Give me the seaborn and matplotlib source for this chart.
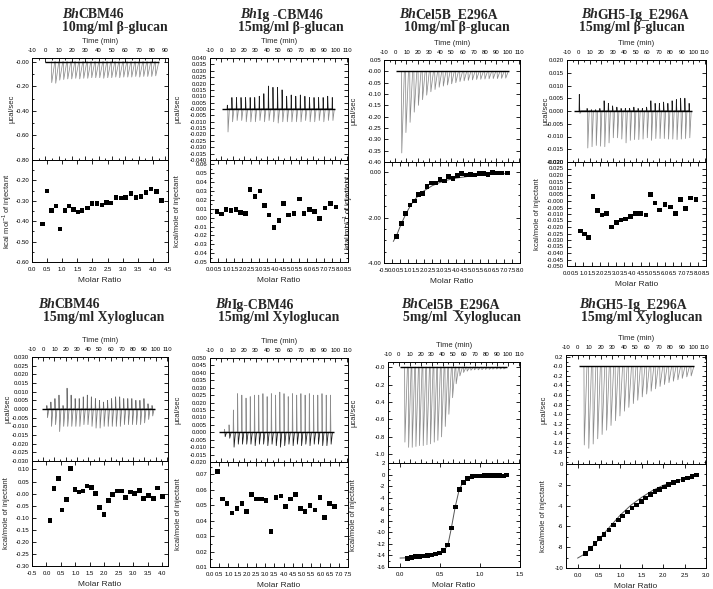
import numpy as np
import seaborn as sns
import matplotlib.pyplot as plt
from matplotlib.ticker import FixedLocator, AutoMinorLocator, FormatStrFormatter

# ITC figure: raw thermogram (top) + integrated heats (bottom) for 8 runs

sns.set_theme(style='ticks', rc={'axes.edgecolor': 'black', 'axes.linewidth': 0.7,
                                 'xtick.color': 'black', 'ytick.color': 'black'})
plt.rcParams['font.family'] = ['Liberation Sans', 'DejaVu Sans']
plt.rcParams['mathtext.fontset'] = 'custom'
plt.rcParams['mathtext.rm'] = 'Liberation Sans'

W, H = 713, 589

name_main = ['CBM46', 'Ig -CBM46', 'Cel5B_E296A', 'GH5-Ig_E296A',
             'CBM46', 'Ig-CBM46', 'Cel5B_E296A', 'GH5-Ig_E296A']
name_sub = ['10mg/ml β-glucan', '15mg/ml β-glucan', '10mg/ml β-glucan', '15mg/ml β-glucan',
            '15mg/ml Xyloglucan', '15mg/ml Xyloglucan', '5mg/ml  Xyloglucan', '15mg/ml Xyloglucan']
ylab_upper = 'µcal/sec'
ylab_lower = ['kcal mol$^{-1}$ of injectant', 'kcal/mole of injectant', 'kcal mol$^{-1}$ of injectant',
              'kcal/mole of injectant', 'kcal/mole of injectant', 'kcal/mole of injectant',
              'kcal/mole of injectant', 'kcal/mole of injectant']

# ---- panel 1: BhCBM46 / beta-glucan
p1_time = [4.5, 7.5, 10.5, 13.5, 16.5, 19.5, 22.5, 25.5, 28.5, 31.5, 34.5, 37.5, 40.5, 43.5,
           46.5, 49.5, 52.5, 55.5, 58.5, 61.5, 64.5, 67.5, 70.5, 73.5, 76.5, 79.5, 82.5]
p1_peak = [-0.170, -0.175, -0.150, -0.145, -0.140, -0.140, -0.135, -0.140, -0.135, -0.135,
           -0.130, -0.130, -0.130, -0.135, -0.130, -0.130, -0.125, -0.130, -0.125, -0.125,
           -0.125, -0.120, -0.125, -0.120, -0.120, -0.120, -0.115]
p1_ratio = [0.34, 0.50, 0.64, 0.79, 0.93, 1.09, 1.23, 1.37, 1.52, 1.66, 1.83, 1.99, 2.15,
            2.31, 2.46, 2.62, 2.78, 2.94, 3.10, 3.27, 3.44, 3.61, 3.77, 3.94, 4.11, 4.28]
p1_heat = [-0.413, -0.251, -0.349, -0.325, -0.438, -0.349, -0.325, -0.342, -0.354, -0.349,
           -0.336, -0.314, -0.314, -0.320, -0.309, -0.310, -0.285, -0.286, -0.283, -0.264,
           -0.285, -0.280, -0.260, -0.243, -0.254, -0.298]

# ---- panel 2: BhIg-CBM46 / beta-glucan
p2_time = [5, 9, 13, 17, 21, 25, 29, 33, 37, 41, 45, 49, 53, 57, 61, 65, 69, 73, 77, 81, 85, 89, 93, 97]
p2_up = [0.003, 0.009, 0.009, 0.009, 0.009, 0.009, 0.009, 0.010, 0.012, 0.018, 0.017, 0.017,
         0.015, 0.010, 0.011, 0.010, 0.011, 0.010, 0.009, 0.009, 0.009, 0.009, 0.010, 0.009]
p2_down = [-0.018, -0.010, -0.009, -0.009, -0.010, -0.010, -0.010, -0.009, -0.010, -0.009,
           -0.010, -0.011, -0.010, -0.010, -0.010, -0.010, -0.010, -0.009, -0.010, -0.010,
           -0.009, -0.010, -0.009, -0.009]
p2_ratio = [0.42, 0.69, 0.99, 1.30, 1.60, 1.89, 2.18, 2.46, 2.77, 3.07, 3.36, 3.63, 3.95,
            4.24, 4.54, 4.85, 5.17, 5.50, 5.80, 6.13, 6.45, 6.76, 7.08, 7.42, 7.77]
p2_heat = [0.007, 0.004, 0.009, 0.008, 0.009, 0.006, 0.005, 0.032, 0.024, 0.030, 0.014, 0.003,
           -0.011, -0.003, 0.016, 0.003, 0.005, 0.021, 0.005, 0.009, 0.007, -0.001, 0.011, 0.016, 0.012]

# ---- panel 3: BhCel5B_E296A / beta-glucan
p3_time = [5.5, 9.2, 12.9, 16.6, 20.3, 24.0, 27.7, 31.4, 35.1, 38.8, 42.5, 46.2, 49.9, 53.6,
           57.3, 61.0, 64.7, 68.4, 72.1, 75.8, 79.5, 83.2, 86.9, 90.6, 94.3, 98.0]
p3_peak = [-0.36, -0.27, -0.225, -0.18, -0.15, -0.125, -0.105, -0.09, -0.08, -0.07, -0.065,
           -0.06, -0.055, -0.05, -0.045, -0.042, -0.04, -0.038, -0.036, -0.035, -0.034, -0.033,
           -0.032, -0.032, -0.031, -0.030]
p3_ratio = [0.29, 0.58, 0.86, 1.13, 1.39, 1.67, 1.92, 2.19, 2.46, 2.73, 3.00, 3.27, 3.54,
            3.81, 4.08, 4.36, 4.63, 4.89, 5.17, 5.46, 5.73, 6.00, 6.29, 6.58, 6.88, 7.20]
p3_heat = [-2.82, -2.25, -1.83, -1.44, -1.26, -0.98, -0.94, -0.62, -0.47, -0.47, -0.32, -0.38,
           -0.20, -0.28, -0.15, -0.07, -0.13, -0.09, -0.12, -0.06, -0.06, -0.09, 0.00, -0.03,
           -0.03, -0.04]
p3_fit_x = [0.08, 0.29, 0.58, 0.86, 1.13, 1.39, 1.67, 2.0, 2.5, 3.0, 3.5, 4.0, 5.0, 6.0, 7.2]
p3_fit_y = [-3.05, -2.78, -2.27, -1.85, -1.50, -1.23, -1.02, -0.82, -0.60, -0.45, -0.34,
            -0.26, -0.16, -0.10, -0.06]

# ---- panel 4: BhGH5-Ig_E296A / beta-glucan
p4_time = [0.5, 7.3, 11.0, 14.7, 18.4, 22.1, 25.8, 29.5, 33.2, 36.9, 40.6, 44.3, 48.0, 51.7,
           55.4, 59.1, 62.8, 66.5, 70.2, 73.9, 77.6, 81.3, 85.0, 88.7, 92.4, 96.1]
p4_up = [0.0065, 0.001, 0.0005, 0.0005, 0.001, 0.004, 0.003, 0.002, 0.0015, 0.001, 0.001,
         0.001, 0.0015, 0.001, 0.001, 0.0015, 0.004, 0.003, 0.003, 0.0035, 0.003, 0.004,
         0.0045, 0.005, 0.005, 0.003]
p4_down = [-0.001, -0.0145, -0.014, -0.0135, -0.0138, -0.014, -0.0125, -0.0105, -0.0105,
           -0.011, -0.0125, -0.0115, -0.0112, -0.0112, -0.011, -0.0105, -0.0115, -0.0108,
           -0.0108, -0.0108, -0.011, -0.011, -0.0112, -0.011, -0.0108, -0.0105]
p4_ratio = [0.82, 1.06, 1.33, 1.59, 1.88, 2.14, 2.43, 2.71, 3.02, 3.31, 3.59, 3.90, 4.20,
            4.51, 4.82, 5.10, 5.39, 5.67, 6.00, 6.33, 6.63, 6.94, 7.24, 7.57, 7.88]
p4_heat = [-0.0232, -0.0255, -0.0281, 0.0036, -0.0075, -0.0108, -0.0095, -0.0201, -0.0165,
           -0.0147, -0.0137, -0.0121, -0.0095, -0.0095, -0.0108, 0.0052, -0.0015, -0.0070,
           -0.0028, -0.0046, -0.0095, 0.0010, -0.0059, 0.0023, 0.0010]

# ---- panel 5: BhCBM46 / xyloglucan
p5_time = [3.0, 6.6, 10.2, 13.8, 17.4, 21.0, 24.6, 28.2, 31.8, 35.4, 39.0, 42.6, 46.2, 49.8,
           53.4, 57.0, 60.6, 64.2, 67.8, 71.4, 75.0, 78.6, 82.2, 85.8, 89.4, 93.0, 96.6]
p5_up = [0.002, 0.004, 0.006, 0.008, 0.002, 0.012, 0.008, 0.006, 0.006, 0.007, 0.008, 0.007,
         0.006, 0.005, 0.004, 0.005, 0.006, 0.007, 0.007, 0.006, 0.006, 0.006, 0.005, 0.005,
         0.006, 0.003, 0.002]
p5_down = [-0.005, -0.010, -0.009, -0.013, -0.010, -0.010, -0.010, -0.010, -0.010, -0.009,
           -0.009, -0.010, -0.011, -0.011, -0.010, -0.010, -0.010, -0.010, -0.010, -0.009,
           -0.009, -0.009, -0.009, -0.009, -0.008, -0.006, -0.004]
p5_ratio = [0.12, 0.26, 0.41, 0.53, 0.69, 0.83, 0.98, 1.12, 1.26, 1.40, 1.55, 1.70, 1.84,
            1.99, 2.14, 2.29, 2.44, 2.59, 2.74, 2.90, 3.05, 3.21, 3.36, 3.52, 3.69, 3.84, 4.01]
p5_heat = [-0.111, 0.020, 0.063, -0.068, -0.024, 0.103, 0.018, 0.007, 0.010, 0.031, 0.024,
           0.000, -0.058, -0.087, -0.028, -0.004, 0.010, 0.010, -0.015, 0.006, 0.001, 0.013,
           -0.020, -0.008, -0.020, 0.023, -0.011]

# ---- panel 6: BhIg-CBM46 / xyloglucan
p6_time = [2.5, 6.5, 10.3, 14.0, 17.7, 21.4, 25.1, 28.8, 32.5, 36.2, 39.9, 43.6, 47.3,
           51.0, 54.7, 58.4, 62.1, 65.8, 69.5, 73.2, 76.9, 80.6, 84.3, 88.0, 91.7, 95.4]
p6_up = [0.002, 0.005, 0.015, 0.026, 0.025, 0.023, 0.024, 0.025, 0.025, 0.026, 0.024, 0.026,
         0.025, 0.027, 0.026, 0.024, 0.026, 0.025, 0.026, 0.025, 0.026, 0.025, 0.025, 0.026,
         0.025, 0.025]
p6_down = [-0.003, -0.004, -0.010, -0.008, -0.008, -0.008, -0.008, -0.009, -0.008, -0.008,
           -0.009, -0.008, -0.009, -0.010, -0.009, -0.008, -0.009, -0.008, -0.009, -0.008,
           -0.009, -0.008, -0.008, -0.009, -0.009, -0.008]
p6_ratio = [0.40, 0.67, 0.93, 1.20, 1.46, 1.73, 1.99, 2.26, 2.52, 2.79, 3.05, 3.32, 3.58,
            3.85, 4.11, 4.38, 4.64, 4.91, 5.17, 5.44, 5.70, 5.97, 6.23, 6.50, 6.76]
p6_heat = [0.072, 0.054, 0.051, 0.045, 0.048, 0.051, 0.046, 0.057, 0.054, 0.054, 0.053, 0.033,
           0.055, 0.056, 0.049, 0.054, 0.057, 0.048, 0.046, 0.050, 0.047, 0.055, 0.042, 0.051, 0.049]

# ---- panel 7: BhCel5B_E296A / xyloglucan
p7_time = [5.2, 8.6, 11.9, 15.3, 18.6, 22.0, 25.4, 28.7, 32.1, 35.4, 38.8, 42.2, 45.5, 48.9,
           52.2, 55.6, 59.0, 62.3, 65.7, 69.0, 72.4, 75.8, 79.1, 82.5, 85.8, 89.2, 92.6, 95.9]
p7_peak = [-0.86, -0.92, -0.92, -0.91, -0.90, -0.90, -0.89, -0.88, -0.86, -0.84, -0.80, -0.68,
           -0.54, -0.35, -0.19, -0.10, -0.06, -0.045, -0.035, -0.03, -0.03, -0.028, -0.025,
           -0.025, -0.022, -0.02, -0.02, -0.02]
p7_ratio = [0.09, 0.14, 0.19, 0.25, 0.29, 0.34, 0.39, 0.44, 0.49, 0.54, 0.59, 0.64, 0.69,
            0.74, 0.79, 0.84, 0.90, 0.95, 1.00, 1.05, 1.10, 1.15, 1.20, 1.25, 1.29, 1.33]
p7_heat = [-14.56, -14.40, -14.15, -14.20, -14.10, -13.97, -13.90, -13.75, -13.60, -13.10,
           -12.20, -9.25, -5.60, -2.60, -1.35, -0.70, -0.30, -0.25, -0.25, -0.20, -0.15,
           -0.15, -0.15, -0.15, -0.25, -0.05]
p7_fit_x = [0.0, 0.1, 0.2, 0.3, 0.4, 0.5, 0.55, 0.6, 0.64, 0.69, 0.74, 0.79, 0.84, 0.9, 1.0,
            1.1, 1.2, 1.33]
p7_fit_y = [-14.45, -14.40, -14.30, -14.15, -13.95, -13.60, -13.20, -12.10, -9.40, -5.60,
            -2.60, -1.30, -0.70, -0.40, -0.25, -0.18, -0.14, -0.10]

# ---- panel 8: BhGH5-Ig_E296A / xyloglucan
p8_time = [5.5, 9.4, 13.2, 17.1, 20.9, 24.8, 28.6, 32.5, 36.3, 40.2, 44.0, 47.9, 51.7, 55.6,
           59.4, 63.3, 67.1, 71.0, 74.8, 78.7, 82.5, 86.4, 90.2, 94.1, 97.9]
p8_peak = [-1.65, -1.72, -1.63, -1.52, -1.43, -1.34, -1.24, -1.14, -1.04, -0.94, -0.86, -0.78,
           -0.71, -0.64, -0.58, -0.52, -0.47, -0.42, -0.38, -0.34, -0.31, -0.28, -0.25, -0.22, -0.20]
p8_ratio = [0.19, 0.30, 0.41, 0.51, 0.62, 0.73, 0.84, 0.95, 1.05, 1.16, 1.27, 1.38, 1.49,
            1.59, 1.70, 1.81, 1.92, 2.03, 2.13, 2.24, 2.35, 2.46, 2.57, 2.67, 2.78]
p8_heat = [-8.60, -8.10, -7.67, -7.19, -6.77, -6.33, -5.85, -5.40, -5.00, -4.63, -4.22, -3.93,
           -3.61, -3.26, -2.94, -2.65, -2.43, -2.20, -1.98, -1.79, -1.63, -1.50, -1.34, -1.21, -1.05]
p8_fit_x = [0.0, 0.19, 0.25, 0.5, 0.75, 1.0, 1.25, 1.5, 1.75, 2.0, 2.25, 2.5, 2.78]
p8_fit_y = [-9.05, -8.60, -8.35, -7.25, -6.05, -4.90, -3.95, -3.20, -2.55, -2.05, -1.70, -1.40, -1.05]

raw = [
    dict(t=p1_time, down=p1_peak),
    dict(t=p2_time, up=p2_up, down=p2_down, up_col='#1a1a1a', down_col='#8c8c8c'),
    dict(t=p3_time, down=p3_peak),
    dict(t=p4_time, up=p4_up, down=p4_down, up_col='#1a1a1a', down_col='#8c8c8c'),
    dict(t=p5_time, up=p5_up, down=p5_down, up_col='#6a6a6a', down_col='#7a7a7a'),
    dict(t=p6_time, up=p6_up, down=p6_down, up_col='#8c8c8c', down_col='#1a1a1a'),
    dict(t=p7_time, down=p7_peak),
    dict(t=p8_time, down=p8_peak),
]
iso = [(p1_ratio, p1_heat, None, None), (p2_ratio, p2_heat, None, None),
       (p3_ratio, p3_heat, p3_fit_x, p3_fit_y), (p4_ratio, p4_heat, None, None),
       (p5_ratio, p5_heat, None, None), (p6_ratio, p6_heat, None, None),
       (p7_ratio, p7_heat, p7_fit_x, p7_fit_y), (p8_ratio, p8_heat, p8_fit_x, p8_fit_y)]

# ---- layout / axes settings (pixels: left, right, top, middle, bottom)
boxes = [(32, 168, 58, 160, 262), (210, 348, 58, 160, 262), (384, 520, 60, 162, 263),
         (567, 706, 60, 162, 266), (32, 168, 357, 461, 566), (210, 348, 358, 462, 567),
         (388, 520, 362, 463, 567), (566, 706, 355, 464, 568)]
up_ylim = [(-0.80, 0.03), (-0.040, 0.040), (-0.40, 0.05), (-0.020, 0.020),
           (-0.030, 0.030), (-0.020, 0.050), (-1.1, 0.06), (-2.05, 0.24)]
up_yt = [(-0.80, 0.0, 0.2), (-0.04, 0.04, 0.005), (-0.40, 0.05, 0.05), (-0.02, 0.02, 0.005),
         (-0.03, 0.03, 0.005), (-0.02, 0.05, 0.005), (-1.0, 0.0, 0.2), (-1.8, 0.2, 0.2)]
up_fmt = ['%.2f', '%.3f', '%.2f', '%.3f', '%.3f', '%.3f', '%.1f', '%.1f']
up_minor = [2, 1, 1, 1, 1, 1, 2, 2]
up_xlim = [(-10, 92)] + [(-10, 111)] * 7
lo_ylim = [(-0.60, -0.10), (-0.05, 0.065), (-4.0, 0.45), (-0.050, 0.030),
           (-0.30, 0.135), (0.01, 0.078), (-16, 2), (-10, 0)]
lo_yt = [(-0.60, -0.20, 0.1), (-0.05, 0.06, 0.01), (-4, 0, 2), (-0.05, 0.03, 0.005),
         (-0.30, 0.10, 0.05), (0.01, 0.07, 0.01), (-16, 2, 2), (-10, 0, 2)]
lo_fmt = ['%.2f', '%.2f', '%.2f', '%.3f', '%.2f', '%.2f', '%d', '%d']
lo_minor = [2, 2, 4, 1, 1, 2, 2, 2]
lo_xlim = [(0, 4.5), (0, 8.5), (-0.5, 8.0), (0, 8.5), (-0.5, 4.2), (0, 7.5), (-0.15, 1.5), (-0.27, 3.0)]
lo_xt = [(0, 4.5), (0, 8.5), (-0.5, 8.0), (0, 8.5), (-0.5, 4.0), (0, 7.5), (0, 1.5), (0, 3.0)]
ylab_off_up = [-17, -29, -27, -18, -20, -29, -31, -19]
ylab_off_lo = [-18, -29, -29, -26, -22, -28, -31, -19]
title_x1 = [62, 240, 399, 581, 38, 215, 401, 579]
title_x2 = [62, 238, 404, 579, 43, 218, 403, 581]
title_y = [(18.5, 31), (308.5, 320.5)]
TSIZE = 9.9


def ticks(a, b, s):
    return np.round(np.arange(a, b + s / 2, s), 4)


def style_axis(ax):
    ax.tick_params(which='both', direction='in', top=True, right=True, width=0.6,
                   labelsize=4.3, pad=2, colors='black')
    ax.tick_params(which='major', length=2.6)
    ax.tick_params(which='minor', length=1.5)
    for sp in ax.spines.values():
        sp.set_linewidth(0.7)
        sp.set_color('black')


def draw_raw(ax, d):
    t = d['t']
    if 'up' not in d:
        xs, ys = [], []
        for ti, p in zip(t, d['down']):
            xs += [ti, ti + 0.3, ti + 2.6]
            ys += [0, p, 0]
        sns.lineplot(x=xs, y=ys, ax=ax, color='#8c8c8c', linewidth=0.55, sort=False, estimator=None)
    else:
        ux, uy, dx, dy = [], [], [], []
        for ti, u, dn in zip(t, d['up'], d['down']):
            ux += [ti, ti + 0.2, ti + 0.6]
            uy += [0, u, 0]
            dx += [ti + 0.6, ti + 0.8, ti + 2.0]
            dy += [0, dn, 0]
        sns.lineplot(x=dx, y=dy, ax=ax, color=d['down_col'], linewidth=0.55, sort=False, estimator=None)
        sns.lineplot(x=ux, y=uy, ax=ax, color=d['up_col'], linewidth=0.55, sort=False, estimator=None)
    ax.hlines(0, t[0] - 4.5, t[-1] + 3, color='black', linewidth=1.0, zorder=5)


fig = plt.figure(figsize=(W / 100, H / 100), dpi=100)

for i in range(8):
    l, r, top, mid, bot = boxes[i]
    au = fig.add_axes([l / W, 1 - mid / H, (r - l) / W, (mid - top) / H])
    al = fig.add_axes([l / W, 1 - bot / H, (r - l) / W, (bot - mid) / H])

    # raw heat
    draw_raw(au, raw[i])
    au.set_xlim(*up_xlim[i])
    au.set_ylim(*up_ylim[i])
    au.xaxis.set_major_locator(FixedLocator(ticks(-10, 110 if i else 90, 10)))
    au.xaxis.set_major_formatter(FormatStrFormatter('%d'))
    au.xaxis.set_minor_locator(AutoMinorLocator(2))
    au.yaxis.set_major_locator(FixedLocator(ticks(*up_yt[i])))
    au.yaxis.set_major_formatter(FormatStrFormatter(up_fmt[i]))
    if up_minor[i] > 1:
        au.yaxis.set_minor_locator(AutoMinorLocator(up_minor[i]))
    style_axis(au)
    au.tick_params(axis='x', labeltop=True, labelbottom=False, pad=3.5)
    au.xaxis.set_label_position('top')
    au.set_xlabel('Time (min)', fontsize=5.5, labelpad=3.5)
    au.set_ylabel(ylab_upper, fontsize=5.5)

    # integrated heats
    x, y, fx, fy = iso[i]
    if fx is not None:
        sns.lineplot(x=fx, y=fy, ax=al, color='#555555', linewidth=0.7, sort=False, estimator=None)
    sns.scatterplot(x=x, y=y, ax=al, marker='s', s=11, color='black', edgecolor='none', legend=False, zorder=4)
    al.set_xlim(*lo_xlim[i])
    al.set_ylim(*lo_ylim[i])
    al.xaxis.set_major_locator(FixedLocator(ticks(lo_xt[i][0], lo_xt[i][1], 0.5)))
    al.xaxis.set_major_formatter(FormatStrFormatter('%.1f'))
    al.yaxis.set_major_locator(FixedLocator(ticks(*lo_yt[i])))
    al.yaxis.set_major_formatter(FormatStrFormatter(lo_fmt[i]))
    if lo_minor[i] > 1:
        al.yaxis.set_minor_locator(AutoMinorLocator(lo_minor[i]))
    style_axis(al)
    al.tick_params(axis='x', pad=3.5)
    al.set_xlabel('Molar Ratio', fontsize=6, labelpad=3.5)
    al.set_ylabel(ylab_lower[i], fontsize=5.5)

    au.yaxis.set_label_coords(ylab_off_up[i] / (r - l), 0.5)
    al.yaxis.set_label_coords(ylab_off_lo[i] / (r - l), 0.5)

    # two-line title, "Bh" in bold italic
    y1, y2 = title_y[i // 4]
    t1 = fig.text(title_x1[i] / W, 1 - y1 / H, 'Bh', family='Liberation Serif', weight='bold',
                  style='italic', size=TSIZE, va='baseline')
    au.annotate(name_main[i], xy=(1, 0), xycoords=t1, va='bottom', ha='left',
                family='Liberation Serif', weight='bold', size=TSIZE, annotation_clip=False)
    fig.text(title_x2[i] / W, 1 - y2 / H, name_sub[i], family='Liberation Serif', weight='bold',
             size=TSIZE, va='baseline')

fig.savefig('out.png', dpi=100)
